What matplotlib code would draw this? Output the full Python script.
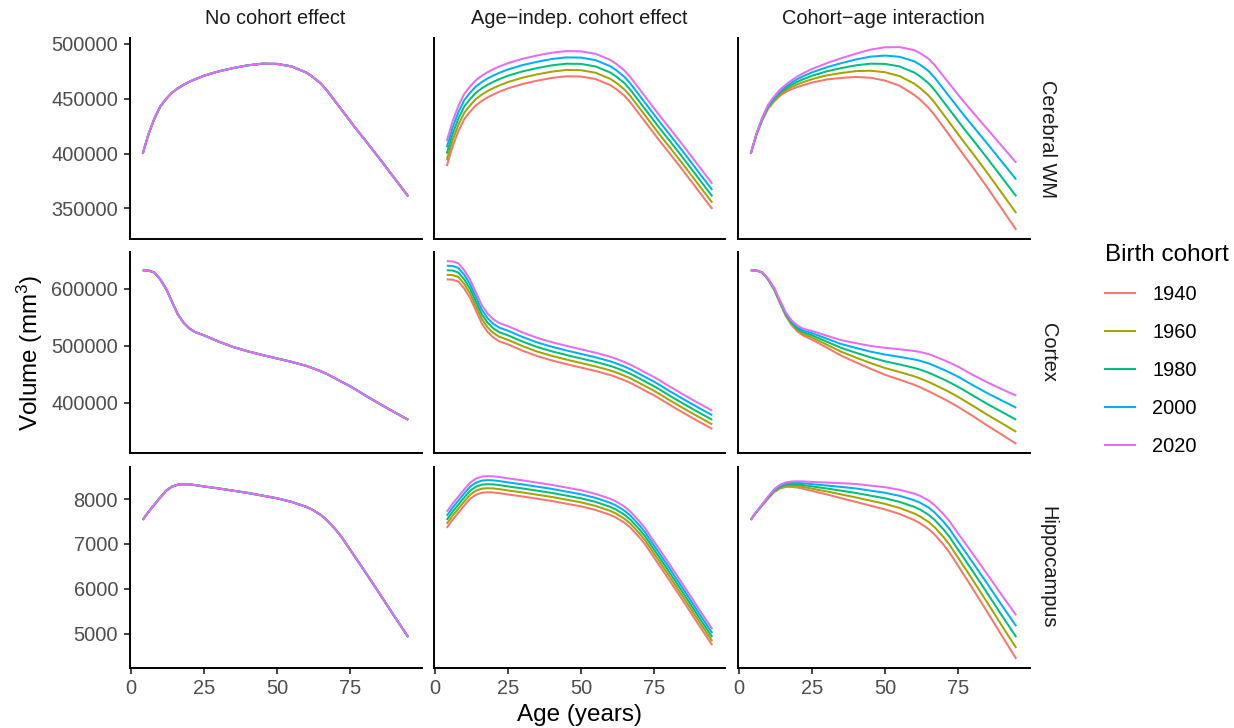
import matplotlib.pyplot as plt
from matplotlib.lines import Line2D
from matplotlib.ticker import FuncFormatter

plt.rcParams.update({
    "font.family": ["Liberation Sans", "DejaVu Sans"],
    "mathtext.default": "regular",
})

AGES = [4, 6, 8, 10, 12, 14, 16, 18, 20, 22, 25, 30, 35, 40, 45, 50, 55, 60, 62, 65, 67, 70, 72,
        75, 77, 80, 85, 90, 95]
COHORTS = ["1940", "1960", "1980", "2000", "2020"]
COLORS = ["#F8766D", "#A3A500", "#00BF7D", "#00B0F6", "#E76BF3"]
MODELS = ["No cohort effect", "Age\u2212indep. cohort effect", "Cohort\u2212age interaction"]
REGIONS = ["Cerebral WM", "Cortex", "Hippocampus"]

# Cerebral WM
CWM_NONE = [400000, 418000, 432000, 443000, 449800, 455500, 459500, 462800, 465500, 467900, 471000,
            475000, 478000, 480500, 482000, 481800, 479500, 474000, 470500, 464000, 458000, 447500,
            440500, 430000, 423000, 413000, 396000, 378500, 361000]
CWM_INDEP = [
    [388500, 406500, 420500, 431500, 438300, 444000, 448000, 451300, 454000, 456400, 459500,
     463500, 466500, 469000, 470500, 470300, 468000, 462500, 459000, 452500, 446500, 436000,
     429000, 418500, 411500, 401500, 384500, 367000, 349500],
    [394250, 412250, 426250, 437250, 444050, 449750, 453750, 457050, 459750, 462150, 465250,
     469250, 472250, 474750, 476250, 476050, 473750, 468250, 464750, 458250, 452250, 441750,
     434750, 424250, 417250, 407250, 390250, 372750, 355250],
    [400000, 418000, 432000, 443000, 449800, 455500, 459500, 462800, 465500, 467900, 471000,
     475000, 478000, 480500, 482000, 481800, 479500, 474000, 470500, 464000, 458000, 447500,
     440500, 430000, 423000, 413000, 396000, 378500, 361000],
    [405750, 423750, 437750, 448750, 455550, 461250, 465250, 468550, 471250, 473650, 476750,
     480750, 483750, 486250, 487750, 487550, 485250, 479750, 476250, 469750, 463750, 453250,
     446250, 435750, 428750, 418750, 401750, 384250, 366750],
    [411500, 429500, 443500, 454500, 461300, 467000, 471000, 474300, 477000, 479400, 482500,
     486500, 489500, 492000, 493500, 493300, 491000, 485500, 482000, 475500, 469500, 459000,
     452000, 441500, 434500, 424500, 407500, 390000, 372500],
]
CWM_INTER = [
    [400000, 417400, 430800, 441200, 447500, 452700, 456200, 458800, 460700, 462500, 464800,
     467600, 469000, 469900, 469200, 466600, 461900, 453600, 449300, 441600, 435200, 424300,
     417000, 406000, 398600, 388000, 369400, 349900, 330400],
    [400000, 417700, 431400, 442100, 448650, 454100, 457850, 460800, 463100, 465200, 467900,
     471300, 473500, 475200, 475600, 474200, 470700, 463800, 459900, 452800, 446600, 435900,
     428750, 418000, 410800, 400500, 382700, 364200, 345700],
    [400000, 418000, 432000, 443000, 449800, 455500, 459500, 462800, 465500, 467900, 471000,
     475000, 478000, 480500, 482000, 481800, 479500, 474000, 470500, 464000, 458000, 447500,
     440500, 430000, 423000, 413000, 396000, 378500, 361000],
    [400000, 418300, 432600, 443900, 450950, 456900, 461150, 464800, 467900, 470600, 474100,
     478700, 482500, 485800, 488400, 489400, 488300, 484200, 481100, 475200, 469400, 459100,
     452250, 442000, 435200, 425500, 409300, 392800, 376300],
    [400000, 418600, 433200, 444800, 452100, 458300, 462800, 466800, 470300, 473300, 477200,
     482400, 487000, 491100, 494800, 497000, 497100, 494400, 491700, 486400, 480800, 470700,
     464000, 454000, 447400, 438000, 422600, 407100, 391600],
]

# Cortex
CTX_NONE = [632000, 631500, 628000, 616000, 599500, 577000, 555000, 540000, 530000, 523500, 518000,
            507000, 497500, 490000, 483500, 477500, 471500, 464500, 461000, 455000, 450500, 442500,
            437000, 429000, 423000, 413500, 398500, 384000, 370000]
CTX_INDEP = [
    [616000, 615500, 612000, 600000, 583500, 561000, 539000, 524000, 514000, 507500, 502000,
     491000, 481500, 474000, 467500, 461500, 455500, 448500, 445000, 439000, 434500, 426500,
     421000, 413000, 407000, 397500, 382500, 368000, 354000],
    [624000, 623500, 620000, 608000, 591500, 569000, 547000, 532000, 522000, 515500, 510000,
     499000, 489500, 482000, 475500, 469500, 463500, 456500, 453000, 447000, 442500, 434500,
     429000, 421000, 415000, 405500, 390500, 376000, 362000],
    [632000, 631500, 628000, 616000, 599500, 577000, 555000, 540000, 530000, 523500, 518000,
     507000, 497500, 490000, 483500, 477500, 471500, 464500, 461000, 455000, 450500, 442500,
     437000, 429000, 423000, 413500, 398500, 384000, 370000],
    [640000, 639500, 636000, 624000, 607500, 585000, 563000, 548000, 538000, 531500, 526000,
     515000, 505500, 498000, 491500, 485500, 479500, 472500, 469000, 463000, 458500, 450500,
     445000, 437000, 431000, 421500, 406500, 392000, 378000],
    [648000, 647500, 644000, 632000, 615500, 593000, 571000, 556000, 546000, 539500, 534000,
     523000, 513500, 506000, 499500, 493500, 487500, 480500, 477000, 471000, 466500, 458500,
     453000, 445000, 439000, 429500, 414500, 400000, 386000],
]
CTX_INTER = [
    [632000, 631500, 627600, 615000, 597900, 574600, 551800, 536000, 525000, 517500, 510400,
     496600, 482400, 470700, 459500, 448900, 440400, 431400, 427200, 419900, 414800, 407000,
     401500, 392800, 386400, 377000, 360200, 344200, 327800],
    [632000, 631500, 627800, 615500, 598700, 575800, 553400, 538000, 527500, 520500, 514200,
     501800, 489200, 479100, 469500, 460700, 453700, 446200, 442600, 436200, 431400, 424000,
     418750, 410400, 404200, 395000, 379100, 364100, 348900],
    [632000, 631500, 628000, 616000, 599500, 577000, 555000, 540000, 530000, 523500, 518000,
     507000, 496000, 487500, 479500, 472500, 467000, 461000, 458000, 452500, 448000, 441000,
     436000, 428000, 422000, 413000, 398000, 384000, 370000],
    [632000, 631500, 628200, 616500, 600300, 578200, 556600, 542000, 532500, 526500, 521800,
     512200, 502800, 495900, 489500, 484300, 480300, 475800, 473400, 468800, 464600, 458000,
     453250, 445600, 439800, 431000, 416900, 403900, 391100],
    [632000, 631500, 628400, 617000, 601100, 579400, 558200, 544000, 535000, 529500, 525600,
     517400, 509600, 504300, 499500, 496100, 493600, 490600, 488800, 485100, 481200, 475000,
     470500, 463200, 457600, 449000, 435800, 423800, 412200],
]

# Hippocampus
HIP_NONE = [7540, 7720, 7880, 8040, 8190, 8280, 8325, 8335, 8330, 8315, 8285, 8240, 8190, 8140,
            8080, 8020, 7940, 7830, 7770, 7650, 7540, 7330, 7170, 6880, 6690, 6400, 5910, 5410, 4920]
HIP_INDEP = [
    [7360, 7540, 7700, 7860, 8010, 8100, 8145, 8155, 8150, 8135, 8105, 8060, 8010, 7960,
     7900, 7840, 7760, 7650, 7590, 7470, 7360, 7150, 6990, 6700, 6510, 6220, 5730, 5230, 4740],
    [7450, 7630, 7790, 7950, 8100, 8190, 8235, 8245, 8240, 8225, 8195, 8150, 8100, 8050,
     7990, 7930, 7850, 7740, 7680, 7560, 7450, 7240, 7080, 6790, 6600, 6310, 5820, 5320, 4830],
    [7540, 7720, 7880, 8040, 8190, 8280, 8325, 8335, 8330, 8315, 8285, 8240, 8190, 8140,
     8080, 8020, 7940, 7830, 7770, 7650, 7540, 7330, 7170, 6880, 6690, 6400, 5910, 5410, 4920],
    [7630, 7810, 7970, 8130, 8280, 8370, 8415, 8425, 8420, 8405, 8375, 8330, 8280, 8230,
     8170, 8110, 8030, 7920, 7860, 7740, 7630, 7420, 7260, 6970, 6780, 6490, 6000, 5500, 5010],
    [7720, 7900, 8060, 8220, 8370, 8460, 8505, 8515, 8510, 8495, 8465, 8420, 8370, 8320,
     8260, 8200, 8120, 8010, 7950, 7830, 7720, 7510, 7350, 7060, 6870, 6580, 6090, 5590, 5100],
]
HIP_INTER = [
    [7540, 7714, 7866, 8016, 8158, 8238, 8275, 8275, 8260, 8233, 8185, 8108, 8022, 7940,
     7856, 7772, 7670, 7534, 7464, 7330, 7212, 6990, 6822, 6520, 6318, 6010, 5490, 4958, 4434],
    [7540, 7717, 7873, 8028, 8174, 8259, 8300, 8305, 8295, 8274, 8235, 8174, 8106, 8040,
     7968, 7896, 7805, 7682, 7617, 7490, 7376, 7160, 6996, 6700, 6504, 6205, 5700, 5184, 4677],
    [7540, 7720, 7880, 8040, 8190, 8280, 8325, 8335, 8330, 8315, 8285, 8240, 8190, 8140,
     8080, 8020, 7940, 7830, 7770, 7650, 7540, 7330, 7170, 6880, 6690, 6400, 5910, 5410, 4920],
    [7540, 7723, 7887, 8052, 8206, 8301, 8350, 8365, 8365, 8356, 8335, 8306, 8274, 8240,
     8192, 8144, 8075, 7978, 7923, 7810, 7704, 7500, 7344, 7060, 6876, 6595, 6120, 5636, 5163],
    [7540, 7726, 7894, 8064, 8222, 8322, 8375, 8395, 8400, 8397, 8385, 8372, 8358, 8340,
     8304, 8268, 8210, 8126, 8076, 7970, 7868, 7670, 7518, 7240, 7062, 6790, 6330, 5862, 5406],
]

Y_TICKS = [
    [350000, 400000, 450000, 500000],
    [400000, 500000, 600000],
    [5000, 6000, 7000, 8000],
]
X_TICKS = [0, 25, 50, 75]

PANELS = [
    [CWM_NONE, CWM_INDEP, CWM_INTER],
    [CTX_NONE, CTX_INDEP, CTX_INTER],
    [HIP_NONE, HIP_INDEP, HIP_INTER],
]


def expand(lo, hi, frac=0.05):
    # ggplot-style 5% padding on continuous scales
    d = (hi - lo) * frac
    return lo - d, hi + d


def main():
    W, H = 1234, 728
    fig = plt.figure(figsize=(W / 100, H / 100), dpi=100)
    col_x = [129.5, 433.5, 737.5]
    row_y = [38, 252, 467]
    pw, ph = 292, 201

    xlim = expand(min(AGES), max(AGES))
    tick_fs = 14.4
    title_fs = 17.5
    lw = 1.45

    for r in range(3):
        row = PANELS[r]
        vals = list(row[0])
        for s in row[1] + row[2]:
            vals += s
        ylim = expand(min(vals), max(vals))
        for c in range(3):
            ax = fig.add_axes([col_x[c] / W, 1 - (row_y[r] + ph) / H, pw / W, ph / H])
            data = row[c]
            for i, color in enumerate(COLORS):
                ys = data if c == 0 else data[i]
                ax.plot(AGES, ys, color=color, lw=lw, solid_capstyle="butt",
                        solid_joinstyle="round")
            ax.set_xlim(*xlim)
            ax.set_ylim(*ylim)
            ax.set_xticks(X_TICKS)
            ax.set_yticks(Y_TICKS[r])
            ax.yaxis.set_major_formatter(FuncFormatter(lambda v, p: f"{v:.0f}"))
            for side in ("top", "right"):
                ax.spines[side].set_visible(False)
            for side in ("left", "bottom"):
                ax.spines[side].set_linewidth(1.4)
                ax.spines[side].set_color("black")
            ax.tick_params(length=4.2, width=1.3, color="#333333", labelcolor="#4D4D4D",
                           labelsize=tick_fs, pad=4)
            if c > 0:
                ax.tick_params(axis="y", left=False, labelleft=False)
            if r < 2:
                ax.tick_params(axis="x", bottom=False, labelbottom=False)

        fig.text(1048 / W, 1 - (row_y[r] + ph / 2) / H, REGIONS[r], rotation=-90,
                 ha="center", va="center", fontsize=tick_fs, color="#1A1A1A")

    for c in range(3):
        fig.text((col_x[c] + pw / 2) / W, 1 - 18 / H, MODELS[c], ha="center", va="center",
                 fontsize=tick_fs, color="#1A1A1A")

    fig.text(579.5 / W, 1 - 715 / H, "Age (years)", ha="center", va="center",
             fontsize=title_fs, color="black")
    fig.text(30 / W, 1 - 353 / H, "Volume (mm$^3$)", ha="center", va="center",
             rotation=90, fontsize=title_fs, color="black")

    handles = [Line2D([], [], color=col, lw=lw) for col in COLORS]
    fig.legend(handles, COHORTS, title="Birth cohort", loc="upper left",
               bbox_to_anchor=(1105 / W, 1 - 244 / H), frameon=False,
               fontsize=tick_fs, title_fontsize=title_fs, handlelength=1.5,
               handletextpad=0.85, labelspacing=0.95, alignment="left",
               borderpad=0, borderaxespad=0)

    fig.savefig("out.png", dpi=100)


if __name__ == "__main__":
    main()
